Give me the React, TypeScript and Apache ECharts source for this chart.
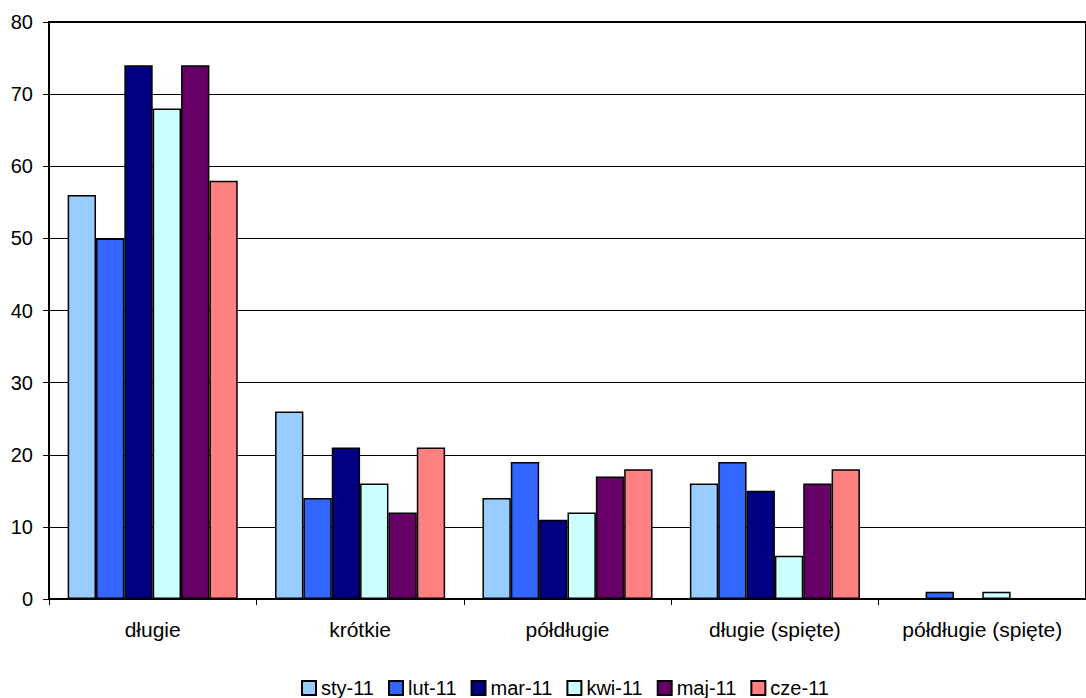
import React, { useEffect, useRef } from "react";
import * as echarts from "echarts";

const categories = ["długie", "krótkie", "półdługie", "długie (spięte)", "półdługie (spięte)"];
const seriesNames = ["sty-11", "lut-11", "mar-11", "kwi-11", "maj-11", "cze-11"];
const seriesColors = ["#99CCFF", "#3366FF", "#000080", "#CCFFFF", "#660066", "#FF8080"];
const sty11 = [56, 26, 14, 16, 0];
const lut11 = [50, 14, 19, 19, 1];
const mar11 = [74, 21, 11, 15, 0];
const kwi11 = [68, 16, 12, 6, 1];
const maj11 = [74, 12, 17, 16, 0];
const cze11 = [58, 21, 18, 18, 0];
const seriesValues = [sty11, lut11, mar11, kwi11, maj11, cze11];

export default function App() {
  const ref = useRef<HTMLDivElement>(null);
  useEffect(() => {
    if (!ref.current) return;
    const chart = echarts.init(ref.current, null, { renderer: "svg" });
    const font = "'Liberation Sans', Arial, sans-serif";
    chart.setOption({
      animation: false,
      textStyle: { fontFamily: font },
      grid: { left: 49, right: -11, top: 22, bottom: 99, show: true, borderColor: "#000", borderWidth: 2 },
      legend: {
        left: 301,
        top: 678,
        padding: 0,
        itemWidth: 14,
        itemHeight: 14,
        itemGap: 14,
        textStyle: { fontSize: 20, color: "#000", fontFamily: font },
        data: seriesNames.map((n) => ({ name: n, icon: "rect", itemStyle: { borderColor: "#000", borderWidth: 2 } })),
      },
      xAxis: {
        type: "category",
        data: categories,
        boundaryGap: true,
        axisLine: { lineStyle: { color: "#000", width: 2 } },
        axisTick: { show: true, interval: 0, length: 6, lineStyle: { color: "#000", width: 1 } },
        axisLabel: { color: "#000", fontSize: 21, margin: 20, interval: 0, hideOverlap: false, fontFamily: font },
      },
      yAxis: {
        type: "value",
        min: 0,
        max: 80,
        interval: 10,
        axisLine: { show: true, lineStyle: { color: "#000", width: 2 } },
        axisTick: { show: true, length: 6, lineStyle: { color: "#000", width: 1 } },
        axisLabel: { color: "#000", fontSize: 20, margin: 16, fontFamily: font },
        splitLine: { show: true, lineStyle: { color: "#000", width: 1 } },
      },
      series: seriesNames.map((name, i) => ({
        name,
        type: "bar",
        data: seriesValues[i],
        barGap: "0%",
        barCategoryGap: "18%",
        itemStyle: { color: seriesColors[i], borderColor: "#000", borderWidth: 1.5 },
      })),
    });
    return () => chart.dispose();
  }, []);
  return <div ref={ref} style={{ position: "fixed", left: 0, top: 0, width: 1086, height: 698, background: "#fff" }} />;
}
